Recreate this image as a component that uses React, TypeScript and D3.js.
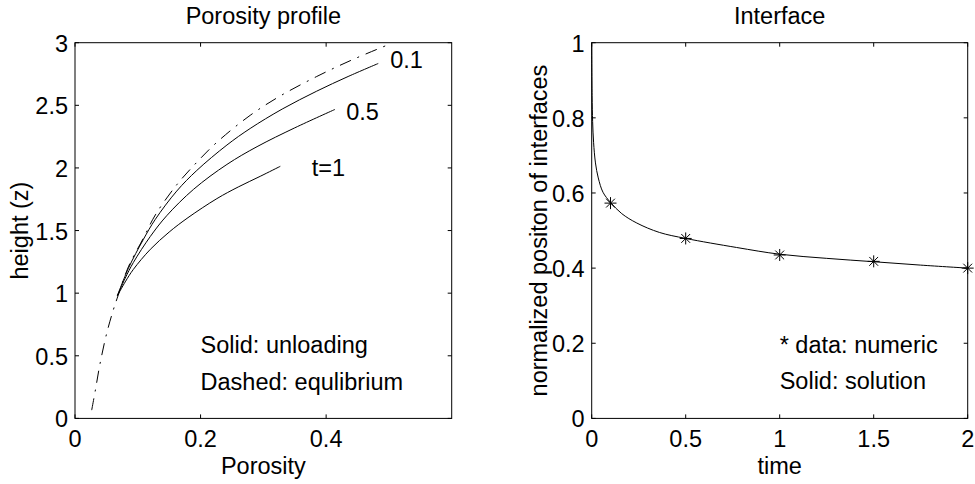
import React from "react";
import * as d3 from "d3";

// ---------- data ----------
const porosityTicks = [0, 0.2, 0.4];
const heightTicks = [0, 0.5, 1, 1.5, 2, 2.5, 3];
const timeTicks = [0, 0.5, 1, 1.5, 2];
const positionTicks = [0, 0.2, 0.4, 0.6, 0.8, 1];

// equilibrium (dash-dot)
const equilibriumPorosity = [0.0266, 0.032, 0.04, 0.0505, 0.061, 0.069, 0.085, 0.109, 0.128, 0.162, 0.194, 0.226, 0.279, 0.327, 0.385, 0.44, 0.497];
const equilibriumHeight = [0.066, 0.213, 0.44, 0.68, 0.866, 0.986, 1.21, 1.44, 1.625, 1.865, 2.045, 2.205, 2.42, 2.575, 2.73, 2.86, 2.98];

// unloading, t = 0.1
const unload01Porosity = [0.0675, 0.085, 0.109, 0.128, 0.162, 0.194, 0.242, 0.279, 0.33, 0.385, 0.435, 0.483];
const unload01Height = [0.98, 1.198, 1.43, 1.59, 1.815, 1.98, 2.183, 2.315, 2.47, 2.613, 2.73, 2.834];
// unloading, t = 0.5
const unload05Porosity = [0.0675, 0.08, 0.093, 0.12, 0.146, 0.189, 0.242, 0.29, 0.35, 0.414];
const unload05Height = [0.98, 1.12, 1.245, 1.453, 1.618, 1.83, 2.028, 2.17, 2.32, 2.467];
// unloading, t = 1
const unload1Porosity = [0.0675, 0.08, 0.093, 0.12, 0.15, 0.18, 0.226, 0.26, 0.295, 0.327];
const unload1Height = [0.98, 1.09, 1.19, 1.35, 1.488, 1.603, 1.755, 1.848, 1.933, 2.013];

// curve labels (left of text, baseline)
const curveLabels = ["0.1", "0.5", "t=1"];
const curveLabelX = [0.502, 0.432, 0.377];
const curveLabelY = [2.8, 2.386, 1.933];

const leftNotes = ["Solid: unloading", "Dashed: equlibrium"];
const leftNoteX = [0.2, 0.2];
const leftNoteY = [0.52, 0.225];

// interface
const solutionTime = [0, 0.002, 0.005, 0.01, 0.02, 0.035, 0.06, 0.1, 0.16, 0.24, 0.36, 0.5, 0.77, 1.0, 1.25, 1.5, 1.75, 2.0];
const solutionPosition = [1.0, 0.86, 0.79, 0.735, 0.68, 0.64, 0.602, 0.575, 0.545, 0.52, 0.495, 0.479, 0.455, 0.437, 0.426, 0.417, 0.408, 0.4];
const numericTime = [0.1, 0.5, 1, 1.5, 2];
const numericPosition = [0.573, 0.479, 0.435, 0.418, 0.4];

const rightNotes = ["* data: numeric", "Solid: solution"];
const rightNoteX = [1, 1];
const rightNoteY = [0.175, 0.077];

// ---------- layout ----------
const W = 975;
const H = 484;
const FONT = "'Liberation Sans', Arial, Helvetica, sans-serif";
const FS = 23.5;
const TOP = 42.7;
const BOTTOM = 418.4;
const TICK = 4;

const xL = d3.scaleLinear().domain([0, 0.6]).range([75, 451.7]);
const yL = d3.scaleLinear().domain([0, 3]).range([BOTTOM, TOP]);
const xR = d3.scaleLinear().domain([0, 2]).range([591.7, 967.7]);
const yR = d3.scaleLinear().domain([0, 1]).range([BOTTOM, TOP]);

const fmt = (v: number) => String(v);

function zip(a: number[], b: number[]): [number, number][] {
  return a.map((v, i) => [v, b[i]]);
}

function Axes({ x, y, xticks, yticks, title, xlabel, ylabel, ylabelX }: any) {
  const [x0, x1] = x.range();
  const [y0, y1] = y.range();
  return (
    <g>
      <rect x={x0} y={y1} width={x1 - x0} height={y0 - y1} fill="none" stroke="#000" strokeWidth={1} />
      {xticks.map((t: number) => (
        <g key={"xt" + t}>
          <line x1={x(t)} x2={x(t)} y1={y0} y2={y0 - TICK} stroke="#000" />
          <line x1={x(t)} x2={x(t)} y1={y1} y2={y1 + TICK} stroke="#000" />
          <text x={x(t)} y={y0 + 28.5} textAnchor="middle" fontSize={FS} fontFamily={FONT}>{fmt(t)}</text>
        </g>
      ))}
      {yticks.map((t: number) => (
        <g key={"yt" + t}>
          <line x1={x0} x2={x0 + TICK} y1={y(t)} y2={y(t)} stroke="#000" />
          <line x1={x1} x2={x1 - TICK} y1={y(t)} y2={y(t)} stroke="#000" />
          <text x={x0 - 7} y={y(t) + 9} textAnchor="end" fontSize={FS} fontFamily={FONT}>{fmt(t)}</text>
        </g>
      ))}
      <text x={(x0 + x1) / 2} y={24} textAnchor="middle" fontSize={FS} fontFamily={FONT}>{title}</text>
      <text x={(x0 + x1) / 2} y={473.5} textAnchor="middle" fontSize={FS} fontFamily={FONT}>{xlabel}</text>
      <text
        transform={`translate(${ylabelX},${(y0 + y1) / 2}) rotate(-90)`}
        textAnchor="middle"
        fontSize={FS}
        fontFamily={FONT}
      >
        {ylabel}
      </text>
    </g>
  );
}

function Star({ cx, cy }: { cx: number; cy: number }) {
  const r = 6;
  const d = 4.4;
  return (
    <g stroke="#000" strokeWidth={1}>
      <line x1={cx - r} x2={cx + r} y1={cy} y2={cy} />
      <line x1={cx} x2={cx} y1={cy - r} y2={cy + r} />
      <line x1={cx - d} x2={cx + d} y1={cy - d} y2={cy + d} />
      <line x1={cx - d} x2={cx + d} y1={cy + d} y2={cy - d} />
    </g>
  );
}

export default function App() {
  const lineL = d3
    .line<[number, number]>()
    .x((d) => xL(d[0]))
    .y((d) => yL(d[1]))
    .curve(d3.curveCatmullRom.alpha(0.5));
  const lineR = d3
    .line<[number, number]>()
    .x((d) => xR(d[0]))
    .y((d) => yR(d[1]))
    .curve(d3.curveCatmullRom.alpha(0.5));

  const solidCurves = [
    zip(unload01Porosity, unload01Height),
    zip(unload05Porosity, unload05Height),
    zip(unload1Porosity, unload1Height),
  ];

  return (
    <svg width={W} height={H} style={{ position: "absolute", left: 0, top: 0, background: "#fff" }}>
      <rect x={0} y={0} width={W} height={H} fill="#fff" />
      {/* Left: porosity profile */}
      <path
        d={lineL(zip(equilibriumPorosity, equilibriumHeight)) || ""}
        fill="none"
        stroke="#000"
        strokeWidth={1}
        strokeDasharray="12 7 2 7"
      />
      {solidCurves.map((c, i) => (
        <path key={"s" + i} d={lineL(c) || ""} fill="none" stroke="#000" strokeWidth={1} />
      ))}
      {curveLabels.map((t, i) => (
        <text key={"cl" + i} x={xL(curveLabelX[i])} y={yL(curveLabelY[i])} fontSize={FS} fontFamily={FONT}>{t}</text>
      ))}
      {leftNotes.map((t, i) => (
        <text key={"ln" + i} x={xL(leftNoteX[i])} y={yL(leftNoteY[i])} fontSize={FS} fontFamily={FONT}>{t}</text>
      ))}
      <Axes
        x={xL}
        y={yL}
        xticks={porosityTicks}
        yticks={heightTicks}
        title="Porosity profile"
        xlabel="Porosity"
        ylabel="height (z)"
        ylabelX={28}
      />

      {/* Right: interface */}
      <path d={lineR(zip(solutionTime, solutionPosition)) || ""} fill="none" stroke="#000" strokeWidth={1} />
      {numericTime.map((t, i) => (
        <Star key={"m" + i} cx={xR(t)} cy={yR(numericPosition[i])} />
      ))}
      {rightNotes.map((t, i) => (
        <text key={"rn" + i} x={xR(rightNoteX[i])} y={yR(rightNoteY[i])} fontSize={FS} fontFamily={FONT}>{t}</text>
      ))}
      <Axes
        x={xR}
        y={yR}
        xticks={timeTicks}
        yticks={positionTicks}
        title="Interface"
        xlabel="time"
        ylabel="normalized positon of interfaces"
        ylabelX={546.5}
      />
    </svg>
  );
}
